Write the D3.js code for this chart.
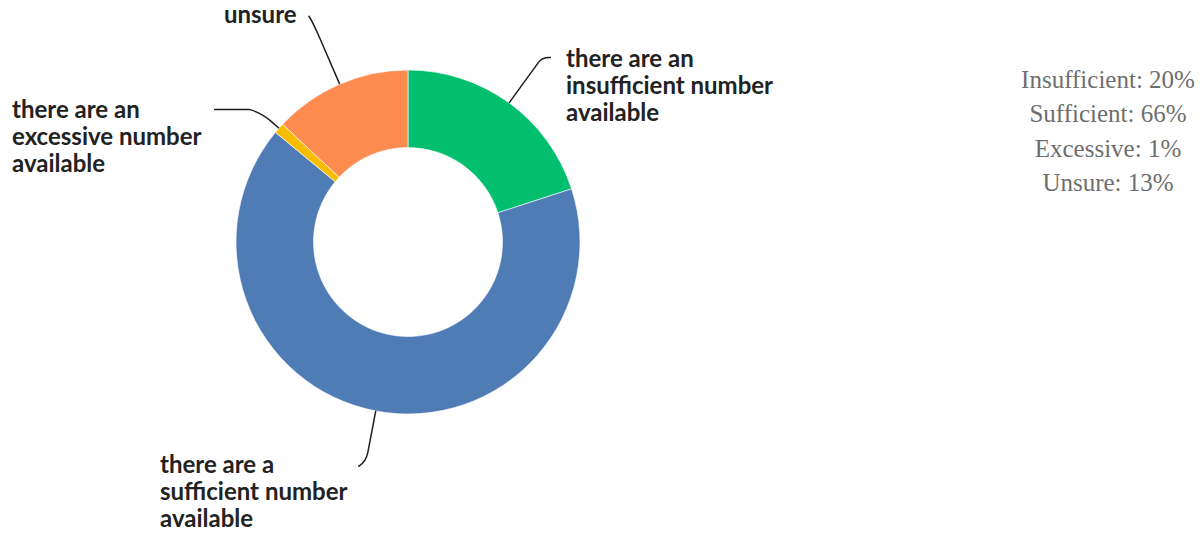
<!DOCTYPE html>
<html>
<head>
<meta charset="utf-8">
<script src="https://cdn.jsdelivr.net/npm/d3@7"></script>
<style>
  html, body { margin: 0; padding: 0; background: #fff; }
  svg { display: block; }
</style>
</head>
<body>
<svg id="chart" width="1204" height="535"></svg>
<script>
// Survey answers: how many are available?
const categories = ["Insufficient", "Sufficient", "Excessive", "Unsure"];
const values = [20, 66, 1, 13];
const sliceLabels = [
  ["there are an", "insufficient number", "available"],
  ["there are a", "sufficient number", "available"],
  ["there are an", "excessive number", "available"],
  ["unsure"]
];
const sliceColors = ["#02bf6f", "#507cb6", "#f8bd03", "#fe8b50"];

// Layout
const width = 1204, height = 535;
const cx = 408, cy = 242;
const outerR = 172, innerR = 94.5;

// Leader line geometry and label anchor for each slice
const leaders = [
  { r1: 222, r2: 228, bend: [7, 0],   tail: 2,   lx: 566, ly: 67 },
  { r1: 214, r2: 224, bend: [-7, 4],  tail: -1,  lx: 160, ly: 473 },
  { r1: 182, r2: 196, bend: [-12, -3], tail: -35, lx: 12,  ly: 118 },
  { r1: 222, r2: 240, bend: [-4, -6], tail: 0,   lx: 224, ly: 23 }
];

const svg = d3.select("#chart");
const g = svg.append("g").attr("transform", `translate(${cx},${cy})`);

const pie = d3.pie().sort(null).value(d => d);
const arcs = pie(values);
const arc = d3.arc().innerRadius(innerR).outerRadius(outerR);

g.selectAll("path.slice")
  .data(arcs)
  .join("path")
  .attr("class", "slice")
  .attr("d", arc)
  .attr("fill", (d, i) => sliceColors[i])
  .attr("stroke", "#ffffff")
  .attr("stroke-width", 0.6);

// Point at radius r along the slice's middle angle
function polar(a, r) {
  return [r * Math.sin(a), -r * Math.cos(a)];
}

g.selectAll("path.leader")
  .data(arcs)
  .join("path")
  .attr("class", "leader")
  .attr("fill", "none")
  .attr("stroke", "#1f1f1f")
  .attr("stroke-width", 1.5)
  .attr("d", (d, i) => {
    const L = leaders[i];
    const a = (d.startAngle + d.endAngle) / 2;
    const p0 = polar(a, outerR);
    const p1 = polar(a, L.r1);
    const pc = polar(a, L.r2);
    const p2 = [pc[0] + L.bend[0], pc[1] + L.bend[1]];
    const p = d3.path();
    p.moveTo(p0[0], p0[1]);
    p.lineTo(p1[0], p1[1]);
    p.quadraticCurveTo(pc[0], pc[1], p2[0], p2[1]);
    p.lineTo(p2[0] + L.tail, p2[1]);
    return p.toString();
  });

// Slice labels
const labelG = svg.append("g")
  .attr("font-family", "Lato, 'Open Sans', sans-serif")
  .attr("font-weight", 700)
  .attr("font-size", 24)
  .attr("fill", "#222");

sliceLabels.forEach((lines, i) => {
  const L = leaders[i];
  const t = labelG.append("text").attr("x", L.lx).attr("y", L.ly);
  lines.forEach((line, k) => {
    t.append("tspan").attr("x", L.lx).attr("y", L.ly + k * 26.8).text(line);
  });
});

// Percentage summary on the right
svg.append("g")
  .attr("font-family", "'Liberation Serif', 'Times New Roman', serif")
  .attr("font-size", 25)
  .attr("fill", "#6e6e6e")
  .attr("text-anchor", "middle")
  .selectAll("text")
  .data(categories)
  .join("text")
  .attr("x", 1108)
  .attr("y", (d, i) => 88 + i * 34.4)
  .text((d, i) => `${d}: ${values[i]}%`);
</script>
</body>
</html>
